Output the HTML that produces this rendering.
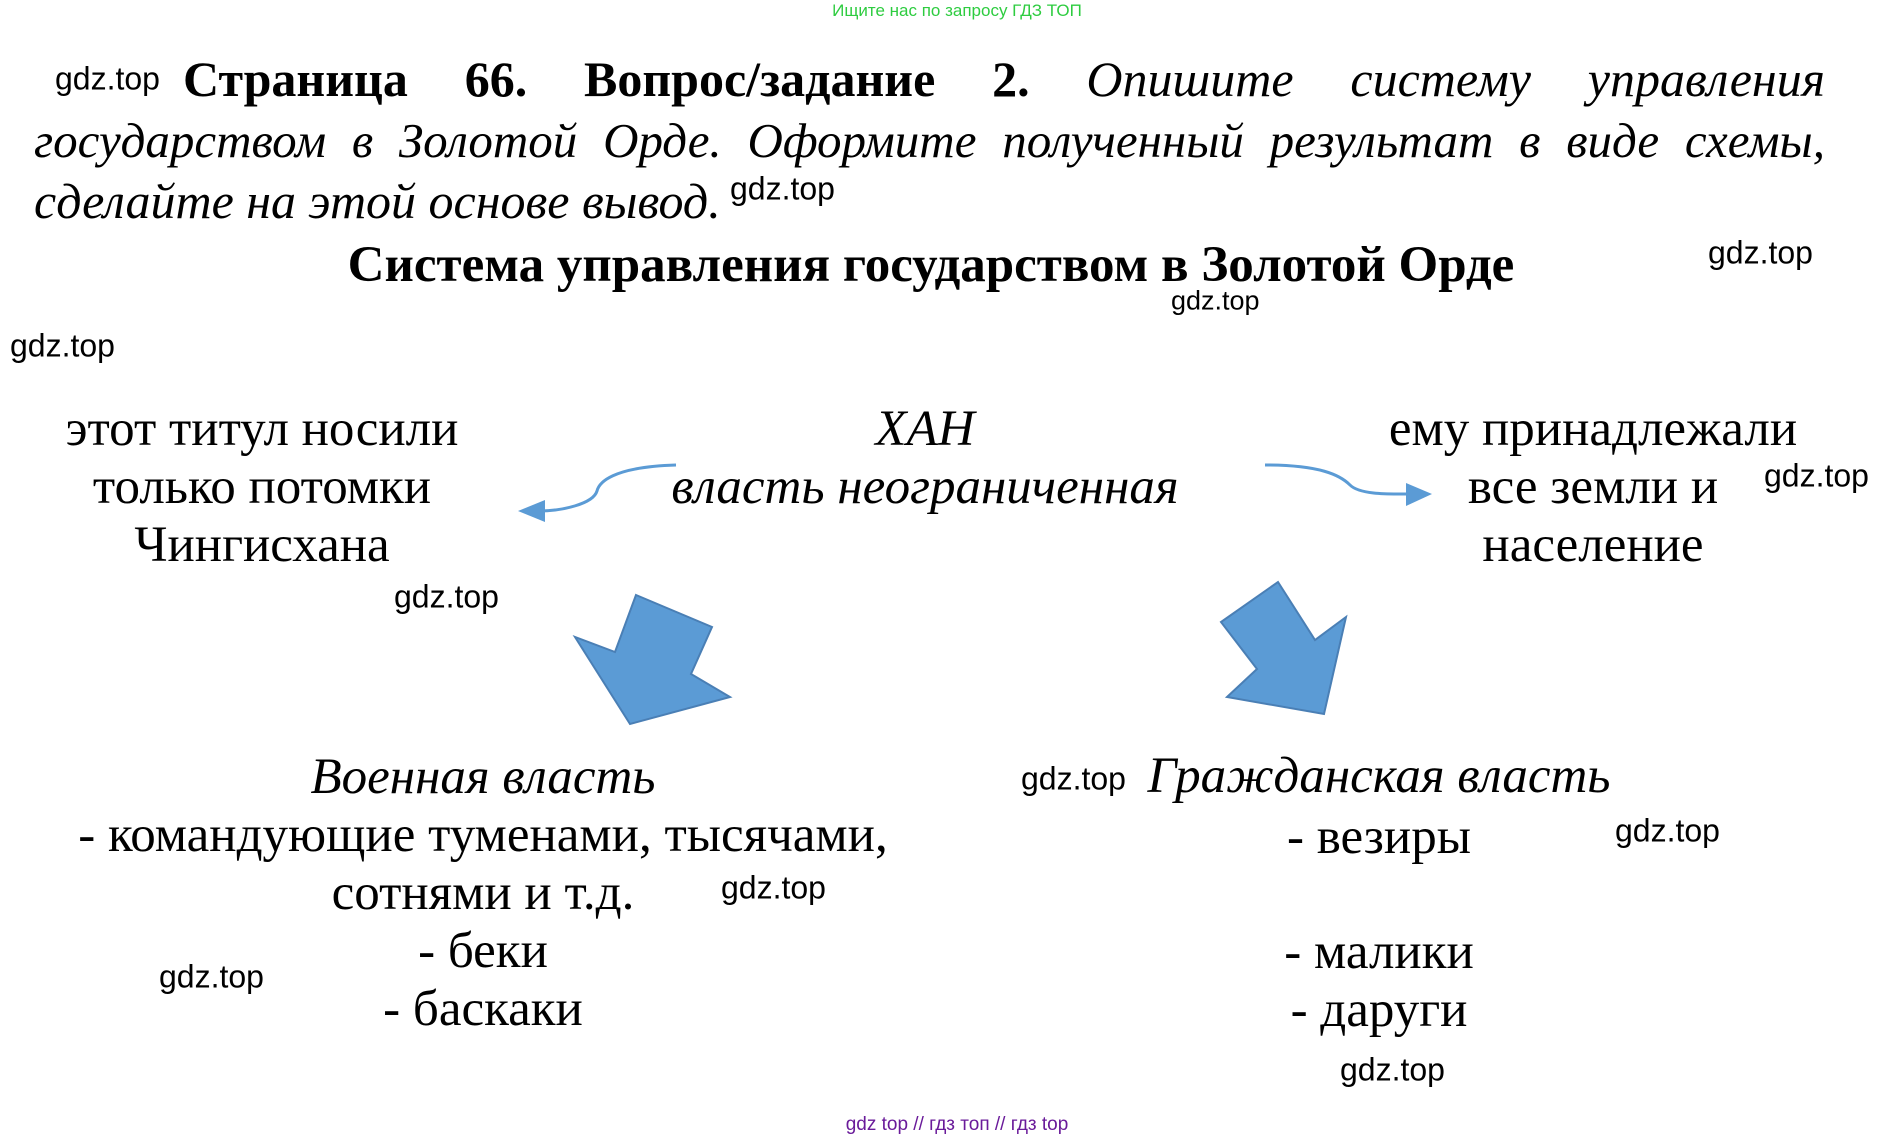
<!DOCTYPE html>
<html><head><meta charset="utf-8"><style>
body{margin:0;width:1896px;height:1128px;background:#fff;position:relative;overflow:hidden;font-family:"Liberation Serif","DejaVu Serif",serif;color:#000}
.a{position:absolute;white-space:nowrap}
.c{transform:translate(-50%,-50%)}
.w{position:absolute;font-family:"Liberation Sans",sans-serif;font-size:32px;transform:translateY(-50%);white-space:nowrap}
.t{font-size:51px;line-height:58px;text-align:center}
</style></head><body>
<div class="a c" style="left:957px;top:11px;font:17px 'Liberation Sans',sans-serif;color:#2ecc40">Ищите нас по запросу ГДЗ ТОП</div>

<div class="a" style="left:183px;top:50px;width:1642px;font-size:50px;display:flex;justify-content:space-between">
<b>Страница</b><b>66.</b><b>Вопрос/задание</b><b>2.</b><i>Опишите</i><i>систему</i><i>управления</i></div>
<div class="a" style="left:34px;top:112px;width:1791px;font-size:49px;display:flex;justify-content:space-between;font-style:italic">
<span>государством</span><span>в</span><span>Золотой</span><span>Орде.</span><span>Оформите</span><span>полученный</span><span>результат</span><span>в</span><span>виде</span><span>схемы,</span></div>
<div class="a" style="left:34px;top:172px;font-size:50px;font-style:italic">сделайте на этой основе вывод.</div>

<div class="a c" style="left:931px;top:265px;font-size:51px;font-weight:bold">Система управления государством в Золотой Орде</div>

<div class="a c t" style="left:262px;top:487px">этот титул носили<br>только потомки<br>Чингисхана</div>
<div class="a c t" style="left:925px;top:458px;font-style:italic">ХАН<br>власть неограниченная</div>
<div class="a c t" style="left:1593px;top:487px">ему принадлежали<br>все земли и<br>население</div>

<svg class="a" style="left:0;top:0" width="1896" height="1128">
<path d="M676,465 C611,467 599,483 597,491 C593,504 562,511 538,511" fill="none" stroke="#5b9bd5" stroke-width="3"/>
<polygon points="518,511 545,500 545,522" fill="#5b9bd5"/>
<path d="M1265,465 C1320,465 1340,475 1350,485 C1360,495 1390,494 1410,494" fill="none" stroke="#5b9bd5" stroke-width="3"/>
<polygon points="1432,494 1406,483 1406,506" fill="#5b9bd5"/>
<polygon points="636,595 712,627 691,674 730,697 630,724 575,637 615,652" fill="#5b9bd5" stroke="#4a7fb5" stroke-width="2"/>
<polygon points="1278,582 1315,640 1346,617 1324,714 1227,697 1257,669 1221,622" fill="#5b9bd5" stroke="#4a7fb5" stroke-width="2"/>
</svg>

<div class="a c t" style="left:483px;top:893px"><i>Военная власть</i><br>- командующие туменами, тысячами,<br>сотнями и т.д.<br>- беки<br>- баскаки</div>
<div class="a c" style="left:1379px;top:776px;font-size:51px;font-style:italic">Гражданская власть</div>
<div class="a c" style="left:1379px;top:837px;font-size:51px">- везиры</div>
<div class="a c" style="left:1379px;top:952px;font-size:51px">- малики</div>
<div class="a c" style="left:1379px;top:1010px;font-size:51px">- даруги</div>

<div class="w" style="left:55px;top:79px">gdz.top</div>
<div class="w" style="left:730px;top:189px">gdz.top</div>
<div class="w" style="left:1708px;top:253px">gdz.top</div>
<div class="w" style="left:1171px;top:301px;font-size:27px">gdz.top</div>
<div class="w" style="left:10px;top:346px">gdz.top</div>
<div class="w" style="left:1764px;top:476px">gdz.top</div>
<div class="w" style="left:394px;top:597px">gdz.top</div>
<div class="w" style="left:1021px;top:779px">gdz.top</div>
<div class="w" style="left:1615px;top:831px">gdz.top</div>
<div class="w" style="left:721px;top:888px">gdz.top</div>
<div class="w" style="left:159px;top:977px">gdz.top</div>
<div class="w" style="left:1340px;top:1070px">gdz.top</div>

<div class="a c" style="left:957px;top:1125px;font:19px 'Liberation Sans',sans-serif;color:#6a1b9a">gdz top // гдз топ // гдз top</div>
</body></html>
